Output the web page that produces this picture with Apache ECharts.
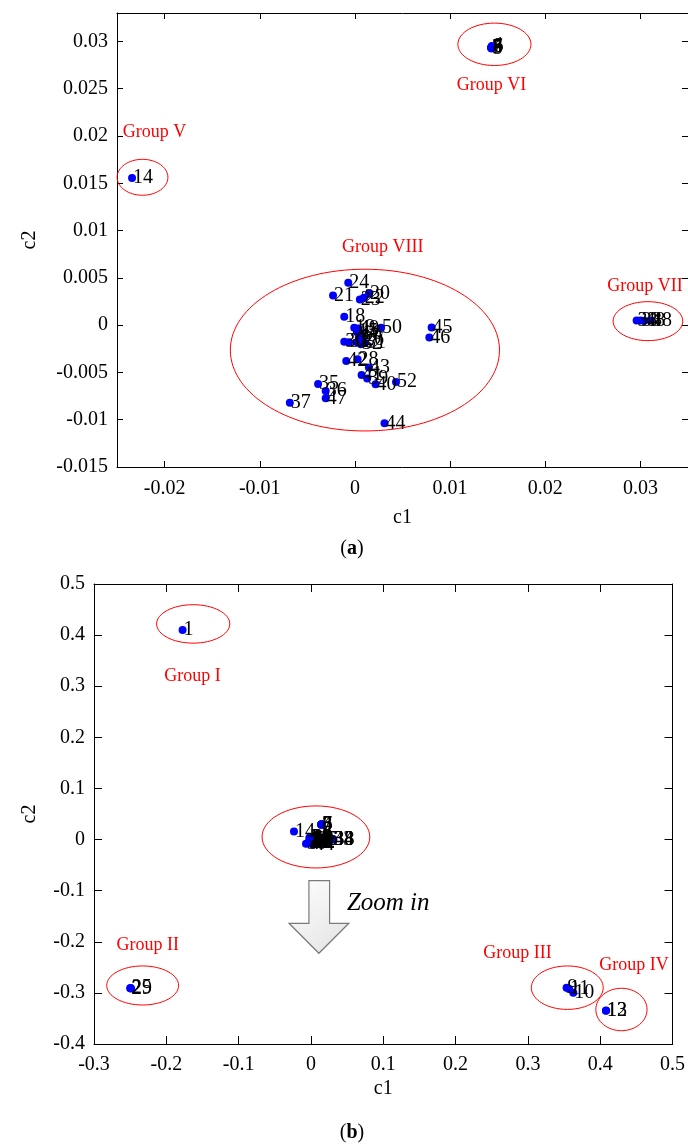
<!DOCTYPE html>
<html>
<head>
<meta charset="utf-8">
<script src="https://cdn.jsdelivr.net/npm/echarts@6/dist/echarts.min.js"></script>
<style>
  html, body { margin: 0; padding: 0; background: #fff; }
  #main { width: 688px; height: 1145px; }
</style>
</head>
<body>
<div id="main"></div>
<script>
// Sample coordinates on the first two components: [c1, c2, sample id]
const groupI = [[-0.1775, 0.4100, '1']];
const groupII = [[-0.2500, -0.2910, '2'], [-0.2492, -0.2905, '25'], [-0.2488, -0.2912, '29']];
const groupIII = [[0.3535, -0.2900, '9'], [0.3570, -0.2925, '11'], [0.3628, -0.2996, '10']];
const groupIV = [[0.4079, -0.3348, '12'], [0.4082, -0.3345, '13']];
const groupV = [[-0.02342, 0.01555, '14']];
const groupVI = [
  [0.01430, 0.02935, '3'], [0.01440, 0.02950, '4'], [0.01435, 0.02925, '5'],
  [0.01445, 0.02940, '6'], [0.01432, 0.02930, '7'], [0.01438, 0.02945, '8']
];
const groupVII = [
  [0.02960, 0.00048, '33'], [0.03000, 0.00050, '34'],
  [0.03040, 0.00046, '48'], [0.03110, 0.00050, '38']
];
const groupVIII = [
  [-0.00070, 0.00447, '24'], [-0.00230, 0.00314, '21'], [0.00052, 0.00271, '23'],
  [0.00094, 0.00290, '22'], [0.00147, 0.00333, '20'], [-0.00112, 0.00088, '18'],
  [-0.00007, -0.00029, '19'], [0.00035, -0.00035, '49'], [0.00021, -0.00074, '15'],
  [0.00063, -0.00095, '16'], [0.00042, -0.00127, '17'], [0.00084, -0.00158, '26'],
  [0.00021, -0.00180, '27'], [0.00275, -0.00029, '50'], [0.00806, -0.00024, '45'],
  [0.00782, -0.00130, '46'], [-0.00112, -0.00176, '30'], [-0.00063, -0.00180, '31'],
  [0.00063, -0.00201, '32'], [0.00105, -0.00190, '51'], [-0.00091, -0.00380, '42'],
  [0.00028, -0.00362, '28'], [0.00147, -0.00447, '43'], [0.00070, -0.00528, '41'],
  [0.00129, -0.00563, '39'], [0.00217, -0.00626, '40'], [0.00432, -0.00602, '52'],
  [-0.00387, -0.00623, '35'], [-0.00307, -0.00697, '36'], [-0.00307, -0.00774, '47'],
  [-0.00684, -0.00820, '37'], [0.00311, -0.01038, '44']
];

// Axis tick values
const topXTicks = [-0.02, -0.01, 0, 0.01, 0.02, 0.03];
const topYTicks = [-0.015, -0.01, -0.005, 0, 0.005, 0.01, 0.015, 0.02, 0.025, 0.03];
const botXTicks = [-0.3, -0.2, -0.1, 0, 0.1, 0.2, 0.3, 0.4, 0.5];
const botYTicks = [-0.4, -0.3, -0.2, -0.1, 0, 0.1, 0.2, 0.3, 0.4, 0.5];

// Cluster outlines: [c1 centre, c2 centre, c1 half-width, c2 half-height]
const topRings = [
  [0.00105, -0.00264, 0.01414, 0.00855],
  [0.01466, 0.02969, 0.00384, 0.00224],
  [0.03079, 0.00042, 0.00366, 0.00206],
  [-0.02232, 0.01563, 0.00267, 0.00190]
];
const botRings = [
  [-0.1628, 0.4219, 0.0506, 0.0376],
  [-0.2327, -0.2855, 0.0497, 0.0382],
  [0.3545, -0.2898, 0.0497, 0.0425],
  [0.4294, -0.3325, 0.0354, 0.0415],
  [0.0069, 0.0051, 0.0745, 0.0607]
];
// Group captions: [text, c1, c2, alignment]
const topCaptions = [
  ['Group V', -0.0244, 0.02038, 'left'],
  ['Group VI', 0.01435, 0.02534, 'center'],
  ['Group VII', 0.03047, 0.00412, 'center'],
  ['Group VIII', 0.00293, 0.00824, 'center']
];
const botCaptions = [
  ['Group I', -0.1637, 0.3188, 'center'],
  ['Group II', -0.2258, -0.2063, 'center'],
  ['Group III', 0.2855, -0.2225, 'center'],
  ['Group IV', 0.4469, -0.2468, 'center']
];
// Block arrow below the central cluster (c1, c2 of its outline)
const arrowShape = [
  [-0.0028, -0.0804], [0.0258, -0.0804], [0.0258, -0.1638], [0.0524, -0.1638],
  [0.0110, -0.2225], [-0.0303, -0.1638], [-0.0028, -0.1638]
];
const zoomNote = ['Zoom in', 0.0497, -0.1241];

const FONT = '"Liberation Serif", "Times New Roman", serif';
const black = '#000';

function xAxisPair(grid, min, max, ticks, tickLen, margin, nameGap) {
  const line = { show: true, onZero: false, lineStyle: { color: black, width: 1 } };
  return [
    {
      type: 'value', gridIndex: grid, position: 'bottom', min, max,
      axisLine: line,
      axisTick: { show: true, inside: true, length: tickLen, customValues: ticks, lineStyle: { color: black } },
      axisLabel: {
        show: true, customValues: ticks, formatter: v => String(v),
        color: black, fontSize: 20, fontFamily: FONT, margin
      },
      splitLine: { show: false },
      name: 'c1', nameLocation: 'middle', nameGap,
      nameTextStyle: { color: black, fontSize: 20, fontFamily: FONT }
    },
    {
      type: 'value', gridIndex: grid, position: 'top', min, max,
      axisLine: line,
      axisTick: { show: true, inside: true, length: tickLen, customValues: ticks, lineStyle: { color: black } },
      axisLabel: { show: false },
      splitLine: { show: false }
    }
  ];
}

function yAxisPair(grid, min, max, ticks, tickLen, nameGap) {
  const line = { show: true, onZero: false, lineStyle: { color: black, width: 1 } };
  return [
    {
      type: 'value', gridIndex: grid, position: 'left', min, max,
      axisLine: line,
      axisTick: { show: true, inside: true, length: tickLen, customValues: ticks, lineStyle: { color: black } },
      axisLabel: {
        show: true, customValues: ticks, formatter: v => String(v),
        color: black, fontSize: 20, fontFamily: FONT, margin: 9
      },
      splitLine: { show: false },
      name: 'c2', nameLocation: 'middle', nameGap, nameRotate: 90,
      nameTextStyle: { color: black, fontSize: 20, fontFamily: FONT }
    },
    {
      type: 'value', gridIndex: grid, position: 'right', min, max,
      axisLine: line,
      axisTick: { show: true, inside: true, length: tickLen, customValues: ticks, lineStyle: { color: black } },
      axisLabel: { show: false },
      splitLine: { show: false }
    }
  ];
}

function scatter(grid, points) {
  return {
    type: 'scatter', xAxisIndex: grid * 2, yAxisIndex: grid * 2,
    data: points, symbol: 'circle', symbolSize: 8,
    itemStyle: { color: '#0000ff', opacity: 1 },
    label: {
      show: true, position: 'right', distance: -3,
      formatter: p => p.value[2],
      color: black, fontSize: 20, fontFamily: FONT
    },
    emphasis: { disabled: true },
    silent: true
  };
}

const centralPoints = [].concat(groupV, groupVI, groupVII, groupVIII);
const allPoints = [].concat(groupI, groupII, groupIII, groupIV, centralPoints);

const chart = echarts.init(document.getElementById('main'), null, { renderer: 'canvas' });
chart.setOption({
  animation: false,
  backgroundColor: '#fff',
  grid: [
    { left: 117, top: 13, width: 572, height: 454 },
    { left: 94, top: 584, width: 580, height: 460 }
  ],
  xAxis: [].concat(
    xAxisPair(0, -0.025, 0.035, topXTicks, 6, 12, 41),
    xAxisPair(1, -0.3, 0.5, botXTicks, 8, 11, 35)
  ),
  yAxis: [].concat(
    yAxisPair(0, -0.015, 0.033, topYTicks, 6, 77),
    yAxisPair(1, -0.4, 0.5, botYTicks, 8, 54)
  ),
  series: [scatter(0, centralPoints), scatter(1, allPoints)]
});

function toPx(grid, x, y) {
  return chart.convertToPixel({ xAxisIndex: grid * 2, yAxisIndex: grid * 2 }, [x, y]);
}

const graphics = [];
function addRings(grid, rings) {
  rings.forEach(([cx, cy, rx, ry]) => {
    const c = toPx(grid, cx, cy);
    const e = toPx(grid, cx + rx, cy + ry);
    graphics.push({
      type: 'ellipse', silent: true, z: 50,
      shape: { cx: c[0], cy: c[1], rx: Math.abs(e[0] - c[0]), ry: Math.abs(c[1] - e[1]) },
      style: { fill: 'none', stroke: '#ff0000', lineWidth: 1 }
    });
  });
}
function addCaptions(grid, caps) {
  caps.forEach(([text, x, y, align]) => {
    const p = toPx(grid, x, y);
    graphics.push({
      type: 'text', silent: true, z: 50, x: p[0], y: p[1],
      style: {
        text, fill: '#ff0000', fontSize: 18, fontFamily: FONT,
        align, verticalAlign: 'middle'
      }
    });
  });
}
addRings(0, topRings);
addRings(1, botRings);
addCaptions(0, topCaptions);
addCaptions(1, botCaptions);

graphics.push({
  type: 'polygon', silent: true, z: 40,
  shape: { points: arrowShape.map(([x, y]) => toPx(1, x, y)) },
  style: {
    fill: {
      type: 'linear', x: 0, y: 0, x2: 1, y2: 1,
      colorStops: [{ offset: 0, color: '#ffffff' }, { offset: 1, color: '#e2e2e2' }]
    },
    stroke: '#7a7a7a', lineWidth: 1.2
  }
});
const zp = toPx(1, zoomNote[1], zoomNote[2]);
graphics.push({
  type: 'text', silent: true, z: 50, x: zp[0], y: zp[1],
  style: {
    text: zoomNote[0], fill: black, fontSize: 25, fontStyle: 'italic', fontFamily: FONT,
    align: 'left', verticalAlign: 'middle'
  }
});

// Panel letters
[['a', 549], ['b', 1133]].forEach(([letter, y]) => {
  graphics.push({
    type: 'text', silent: true, z: 50, x: 352, y,
    style: {
      text: '({b|' + letter + '})', fill: black, fontSize: 20, fontFamily: FONT,
      align: 'center', verticalAlign: 'middle',
      rich: { b: { fontWeight: 'bold', fontSize: 20, fontFamily: FONT, fill: black } }
    }
  });
});

chart.setOption({ graphic: { elements: graphics } });
</script>
</body>
</html>
